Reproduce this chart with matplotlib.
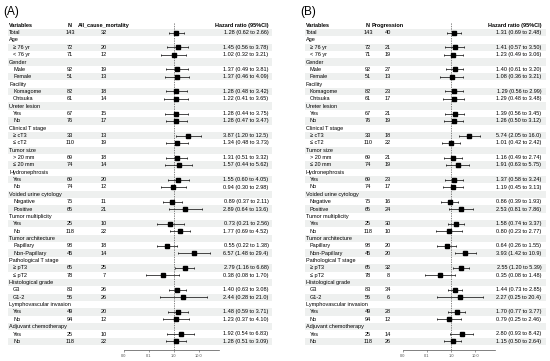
import matplotlib.pyplot as plt

plt.rcParams['font.family'] = ['Liberation Sans', 'DejaVu Sans']

groups = ["Age", "Gender", "Facility", "Ureter lesion", "Clinical T stage", "Tumor size",
          "Hydronephrosis", "Voided urine cytology", "Tumor multiplicity", "Tumor architecture",
          "Pathological T stage", "Histological grade", "Lymphovascular invasion",
          "Adjuvant chemotherapy"]
levels = [["≥ 76 yr", "< 76 yr"], ["Male", "Female"], ["Komagome", "Ohtsuka"], ["Yes", "No"],
          ["≥ cT3", "≤ cT2"], ["> 20 mm", "≤ 20 mm"], ["Yes", "No"], ["Negative", "Positive"],
          ["Yes", "No"], ["Papillary", "Non-Papillary"], ["≥ pT3", "≤ pT2"], ["G3", "G1-2"],
          ["Yes", "No"], ["Yes", "No"]]

# (A) all cause mortality, order: Total then each level
n_a = [143, 72, 71, 92, 51, 82, 61, 67, 76, 33, 110, 69, 74, 69, 74, 75, 65, 25, 118,
       98, 45, 65, 78, 83, 56, 49, 94, 25, 118]
ev_a = [32, 20, 12, 19, 13, 18, 14, 15, 17, 13, 19, 18, 14, 20, 12, 11, 21, 10, 22,
        18, 14, 25, 7, 26, 26, 20, 12, 10, 22]
hr_a = [1.28, 1.45, 1.02, 1.37, 1.37, 1.28, 1.22, 1.28, 1.28, 3.87, 1.34, 1.31, 1.57, 1.55, 0.94,
        0.89, 2.89, 0.73, 1.77, 0.55, 6.57, 2.79, 0.38, 1.40, 2.44, 1.48, 1.23, 1.92, 1.28]
lo_a = [0.62, 0.56, 0.32, 0.49, 0.46, 0.48, 0.41, 0.44, 0.47, 1.20, 0.48, 0.51, 0.44, 0.60, 0.30,
        0.37, 0.64, 0.21, 0.69, 0.22, 1.48, 1.16, 0.08, 0.63, 0.28, 0.59, 0.37, 0.54, 0.51]
hi_a = [2.66, 3.78, 3.21, 3.81, 4.09, 3.42, 3.65, 3.75, 3.47, 12.5, 3.73, 3.32, 5.62, 4.05, 2.98,
        2.11, 13.6, 2.56, 4.52, 1.38, 29.4, 6.68, 1.70, 3.08, 21.0, 3.71, 4.10, 6.83, 3.09]

# (B) progression
n_b = n_a
ev_b = [40, 21, 19, 27, 13, 23, 17, 21, 19, 18, 22, 21, 19, 23, 17, 16, 24, 30, 10,
        20, 20, 32, 8, 34, 6, 28, 12, 14, 26]
hr_b = [1.31, 1.41, 1.23, 1.40, 1.08, 1.29, 1.29, 1.39, 1.26, 5.74, 1.01, 1.16, 1.91, 1.37, 1.19,
        0.86, 2.53, 1.58, 0.80, 0.64, 3.93, 2.55, 0.35, 1.44, 2.27, 1.70, 0.79, 2.80, 1.15]
lo_b = [0.69, 0.57, 0.49, 0.61, 0.36, 0.56, 0.48, 0.56, 0.50, 2.05, 0.42, 0.49, 0.63, 0.58, 0.45,
        0.39, 0.81, 0.74, 0.23, 0.26, 1.42, 1.20, 0.08, 0.73, 0.25, 0.77, 0.25, 0.93, 0.50]
hi_b = [2.48, 3.50, 3.06, 3.20, 3.21, 2.99, 3.48, 3.45, 3.12, 16.0, 2.42, 2.74, 5.75, 3.24, 3.13,
        1.93, 7.86, 3.37, 2.77, 1.55, 10.9, 5.39, 1.48, 2.85, 20.4, 3.77, 2.46, 8.42, 2.64]

ticks = [0.01, 0.1, 1, 10]
tick_labels = ["0.0", "0.1", "1.0", "10.0"]

Y0, DY = 25.3, 7.35   # pixel y of header row, row step
W, H = 550, 361


def fmt(v):
    return f"{v:.1f}" if v >= 10 else f"{v:.2f}"


# build table rows
rows = [("Total", 0, 0)]
k = 1
for g, lv in zip(groups, levels):
    rows.append((g, 1, None))
    for name in lv:
        rows.append((name, 2, k))
        k += 1

fig = plt.figure(figsize=(W / 100, H / 100), dpi=100)
bg = fig.add_axes([0, 0, 1, 1])
bg.set_xlim(0, W)
bg.set_ylim((H - Y0) / DY, -Y0 / DY)
bg.axis("off")


def panel(label, x0, x1, cols, outcome, n, ev, hr, lo, hi, fx0, fx1):
    fs = 4
    bg.text(x0 - 5, -1.85, label, fontsize=8.5, va="center", ha="left")
    # stripes
    for i in range(1, len(rows) + 1, 2):
        bg.barh(i, x1 - x0, left=x0, height=1, color="#eef0ef", zorder=0)
    xv, xn, xe, xh = cols
    bg.text(xv + 1, 0, "Variables", fontsize=fs, fontweight="bold", va="center")
    bg.text(xn, 0, "N", fontsize=fs, fontweight="bold", va="center", ha="center")
    bg.text(xe, 0, outcome, fontsize=fs, fontweight="bold", va="center", ha="center")
    bg.text(xh, 0, "Hazard ratio (95%CI)", fontsize=fs, fontweight="bold", va="center", ha="center")
    ys, hs, ls, us = [], [], [], []
    for i, (name, lev, j) in enumerate(rows, start=1):
        indent = 4 if lev == 2 else 0
        bg.text(xv + 1 + indent, i, name, fontsize=fs, va="center")
        if j is None:
            continue
        bg.text(xn, i, str(n[j]), fontsize=fs, va="center", ha="center")
        bg.text(xe, i, str(ev[j]), fontsize=fs, va="center", ha="center")
        bg.text(xh + 4, i, f"{hr[j]:.2f} ({fmt(lo[j])} to {fmt(hi[j])})",
                fontsize=fs, va="center", ha="center")
        ys.append(i)
        hs.append(hr[j])
        ls.append(hr[j] - lo[j])
        us.append(hi[j] - hr[j])

    top, bot = 22, 350
    ax = fig.add_axes([fx0 / W, (H - bot) / H, (fx1 - fx0) / W, (bot - top) / H])
    ax.set_facecolor("none")
    ax.set_xscale("log")
    ax.set_xlim(0.01, 66)
    ax.set_ylim((bot - Y0) / DY, (top - Y0) / DY)
    ax.axvline(1, color="0.35", lw=0.5, ls=(0, (2, 1.5)), zorder=1)
    ax.errorbar(hs, ys, xerr=[ls, us], fmt="s", color="black", ms=2.3,
                elinewidth=0.5, capsize=0.8, capthick=0.5, zorder=3)
    for s in ["top", "right", "left"]:
        ax.spines[s].set_visible(False)
    ax.spines["bottom"].set_linewidth(0.5)
    ax.spines["bottom"].set_color("0.3")
    ax.set_yticks([])
    ax.set_xticks(ticks)
    ax.set_xticklabels(tick_labels)
    ax.minorticks_off()
    ax.tick_params(axis="x", labelsize=2.8, length=1.5, width=0.4, pad=1.5,
                   colors="0.3")


panel("(A)", 8, 272, (8, 70, 104, 242), "All_cause_mortality",
      n_a, ev_a, hr_a, lo_a, hi_a, 124, 219)
panel("(B)", 305, 546, (305, 368, 388, 515), "Progression",
      n_b, ev_b, hr_b, lo_b, hi_b, 403, 495)

fig.savefig("out.png", dpi=100)
